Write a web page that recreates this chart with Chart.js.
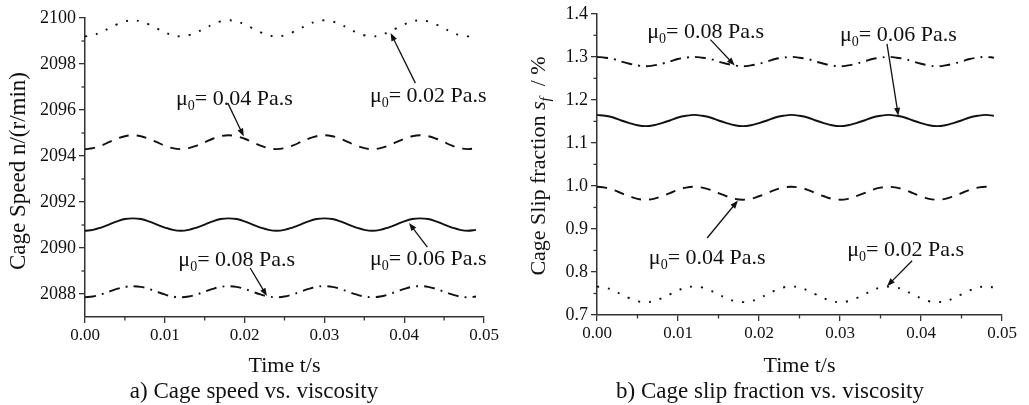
<!DOCTYPE html>
<html>
<head>
<meta charset="utf-8">
<script src="https://cdn.jsdelivr.net/npm/chart.js@4.4.1/dist/chart.umd.min.js"></script>
<style>
html, body { margin: 0; padding: 0; background: #fff; }
#wrap { position: relative; width: 1029px; height: 405px; }
.box { position: absolute; top: 0; height: 405px; }
</style>
</head>
<body>
<div id="wrap">
  <div class="box" style="left:0;width:514px"><canvas id="c1" width="514" height="405"></canvas></div>
  <div class="box" style="left:514px;width:515px"><canvas id="c2" width="515" height="405"></canvas></div>
</div>
<script>
// time axis, s
var time_s = [0.000, 0.001, 0.002, 0.003, 0.004, 0.005, 0.006, 0.007, 0.008, 0.009,
              0.010, 0.011, 0.012, 0.013, 0.014, 0.015, 0.016, 0.017, 0.018, 0.019,
              0.020, 0.021, 0.022, 0.023, 0.024, 0.025, 0.026, 0.027, 0.028, 0.029,
              0.030, 0.031, 0.032, 0.033, 0.034, 0.035, 0.036, 0.037, 0.038, 0.039,
              0.040, 0.041, 0.042, 0.043, 0.044, 0.045, 0.046, 0.047, 0.048, 0.049];

// a) cage speed, r/min
var speed_002 = [2099.20, 2099.25, 2099.38, 2099.55, 2099.72, 2099.85, 2099.90, 2099.85, 2099.72, 2099.55, 2099.38, 2099.25,
                 2099.20, 2099.25, 2099.38, 2099.55, 2099.72, 2099.85, 2099.90, 2099.85, 2099.72, 2099.55, 2099.38, 2099.25,
                 2099.20, 2099.25, 2099.38, 2099.55, 2099.72, 2099.85, 2099.90, 2099.85, 2099.72, 2099.55, 2099.38, 2099.25,
                 2099.20, 2099.25, 2099.38, 2099.55, 2099.72, 2099.85, 2099.90, 2099.85, 2099.72, 2099.55, 2099.38, 2099.25,
                 2099.20, 2099.25];
var speed_004 = [2094.30, 2094.34, 2094.45, 2094.60, 2094.75, 2094.86, 2094.90, 2094.86, 2094.75, 2094.60, 2094.45, 2094.34,
                 2094.30, 2094.34, 2094.45, 2094.60, 2094.75, 2094.86, 2094.90, 2094.86, 2094.75, 2094.60, 2094.45, 2094.34,
                 2094.30, 2094.34, 2094.45, 2094.60, 2094.75, 2094.86, 2094.90, 2094.86, 2094.75, 2094.60, 2094.45, 2094.34,
                 2094.30, 2094.34, 2094.45, 2094.60, 2094.75, 2094.86, 2094.90, 2094.86, 2094.75, 2094.60, 2094.45, 2094.34,
                 2094.30, 2094.34];
var speed_006 = [2090.75, 2090.79, 2090.89, 2091.02, 2091.16, 2091.26, 2091.29, 2091.26, 2091.16, 2091.02, 2090.89, 2090.79,
                 2090.75, 2090.79, 2090.89, 2091.02, 2091.16, 2091.26, 2091.29, 2091.26, 2091.16, 2091.02, 2090.89, 2090.79,
                 2090.75, 2090.79, 2090.89, 2091.02, 2091.16, 2091.26, 2091.29, 2091.26, 2091.16, 2091.02, 2090.89, 2090.79,
                 2090.75, 2090.79, 2090.89, 2091.02, 2091.16, 2091.26, 2091.29, 2091.26, 2091.16, 2091.02, 2090.89, 2090.79,
                 2090.75, 2090.79];
var speed_008 = [2087.86, 2087.89, 2087.98, 2088.10, 2088.22, 2088.31, 2088.34, 2088.31, 2088.22, 2088.10, 2087.98, 2087.89,
                 2087.86, 2087.89, 2087.98, 2088.10, 2088.22, 2088.31, 2088.34, 2088.31, 2088.22, 2088.10, 2087.98, 2087.89,
                 2087.86, 2087.89, 2087.98, 2088.10, 2088.22, 2088.31, 2088.34, 2088.31, 2088.22, 2088.10, 2087.98, 2087.89,
                 2087.86, 2087.89, 2087.98, 2088.10, 2088.22, 2088.31, 2088.34, 2088.31, 2088.22, 2088.10, 2087.98, 2087.89,
                 2087.86, 2087.89];

// b) cage slip fraction, %
var slip_002 = [0.766, 0.764, 0.757, 0.748, 0.739, 0.732, 0.730, 0.732, 0.739, 0.748, 0.757, 0.764,
                0.766, 0.764, 0.757, 0.748, 0.739, 0.732, 0.730, 0.732, 0.739, 0.748, 0.757, 0.764,
                0.766, 0.764, 0.757, 0.748, 0.739, 0.732, 0.730, 0.732, 0.739, 0.748, 0.757, 0.764,
                0.766, 0.764, 0.757, 0.748, 0.739, 0.732, 0.730, 0.732, 0.739, 0.748, 0.757, 0.764,
                0.766, 0.764];
var slip_004 = [0.998, 0.996, 0.991, 0.983, 0.976, 0.970, 0.968, 0.970, 0.976, 0.983, 0.991, 0.996,
                0.998, 0.996, 0.991, 0.983, 0.976, 0.970, 0.968, 0.970, 0.976, 0.983, 0.991, 0.996,
                0.998, 0.996, 0.991, 0.983, 0.976, 0.970, 0.968, 0.970, 0.976, 0.983, 0.991, 0.996,
                0.998, 0.996, 0.991, 0.983, 0.976, 0.970, 0.968, 0.970, 0.976, 0.983, 0.991, 0.996,
                0.998, 0.996];
var slip_006 = [1.165, 1.163, 1.159, 1.152, 1.146, 1.141, 1.139, 1.141, 1.146, 1.152, 1.159, 1.163,
                1.165, 1.163, 1.159, 1.152, 1.146, 1.141, 1.139, 1.141, 1.146, 1.152, 1.159, 1.163,
                1.165, 1.163, 1.159, 1.152, 1.146, 1.141, 1.139, 1.141, 1.146, 1.152, 1.159, 1.163,
                1.165, 1.163, 1.159, 1.152, 1.146, 1.141, 1.139, 1.141, 1.146, 1.152, 1.159, 1.163,
                1.165, 1.163];
var slip_008 = [1.300, 1.298, 1.295, 1.289, 1.284, 1.280, 1.278, 1.280, 1.284, 1.289, 1.295, 1.298,
                1.300, 1.298, 1.295, 1.289, 1.284, 1.280, 1.278, 1.280, 1.284, 1.289, 1.295, 1.298,
                1.300, 1.298, 1.295, 1.289, 1.284, 1.280, 1.278, 1.280, 1.284, 1.289, 1.295, 1.298,
                1.300, 1.298, 1.295, 1.289, 1.284, 1.280, 1.278, 1.280, 1.284, 1.289, 1.295, 1.298,
                1.300, 1.298];

// minor tick values
var time_minor = [0.005, 0.015, 0.025, 0.035, 0.045];
var speed_minor = [2089, 2091, 2093, 2095, 2097, 2099];
var slip_minor = [0.75, 0.85, 0.95, 1.05, 1.15, 1.25, 1.35];

var FONT = '"Liberation Serif", "Times New Roman", serif';
var INK = '#111';
var AXIS = '#333';

var DOT = [2, 9], DASH = [10, 8], DASHDOT = [11, 6, 2, 6];

function pts(vals) {
    return time_s.map(function(t, i) { return {x: t, y: vals[i]}; });
}
function line(vals, dash) {
    return {
        data: pts(vals), borderColor: INK, borderWidth: 1.9, borderDash: dash,
        pointRadius: 0, tension: 0.4, fill: false
    };
}

// minor ticks, titles and arrow labels
var decor = {
    id: 'decor',
    afterDraw: function(chart, args, o) {
        var ctx = chart.ctx, xs = chart.scales.x, ys = chart.scales.y;
        ctx.save();
        ctx.strokeStyle = AXIS;
        ctx.lineWidth = 1.3;
        o.xMinor.forEach(function(v) {
            var p = xs.getPixelForValue(v);
            ctx.beginPath(); ctx.moveTo(p, xs.top); ctx.lineTo(p, xs.top + 3.5); ctx.stroke();
        });
        o.yMinor.forEach(function(v) {
            var p = ys.getPixelForValue(v);
            ctx.beginPath(); ctx.moveTo(ys.right, p); ctx.lineTo(ys.right - 3.5, p); ctx.stroke();
        });

        ctx.fillStyle = INK;
        ctx.textAlign = 'center';
        ctx.textBaseline = 'alphabetic';
        ctx.font = '22px ' + FONT;
        ctx.fillText('Time t/s', (xs.left + xs.right) / 2, 372);
        ctx.font = '23px ' + FONT;
        ctx.fillText(o.caption, o.captionX, 398);

        // y title, rotated, built from parts
        ctx.save();
        ctx.translate(o.yTitleX, o.yTitleY);
        ctx.rotate(-Math.PI / 2);
        ctx.textAlign = 'left';
        var total = 0;
        o.yTitle.forEach(function(p) { ctx.font = p.f + ' ' + FONT; total += ctx.measureText(p.t).width; });
        var cx = -total / 2;
        o.yTitle.forEach(function(p) {
            ctx.font = p.f + ' ' + FONT;
            ctx.fillText(p.t, cx, p.dy || 0);
            cx += ctx.measureText(p.t).width;
        });
        ctx.restore();

        // labels with arrows
        ctx.textAlign = 'left';
        o.notes.forEach(function(n) {
            var x = xs.getPixelForValue(n.x), y = ys.getPixelForValue(n.y);
            ctx.font = '22px ' + FONT;
            ctx.fillText('\u03bc', x, y);
            var w = ctx.measureText('\u03bc').width;
            ctx.font = '14px ' + FONT;
            ctx.fillText('0', x + w, y + 5);
            w += ctx.measureText('0').width;
            ctx.font = '22px ' + FONT;
            ctx.fillText('= ' + n.text + ' Pa.s', x + w, y);

            var x1 = xs.getPixelForValue(n.ax), y1 = ys.getPixelForValue(n.ay);
            var x2 = xs.getPixelForValue(n.bx), y2 = ys.getPixelForValue(n.by);
            var a = Math.atan2(y2 - y1, x2 - x1), L = 8, W = 3;
            ctx.lineWidth = 1.3;
            ctx.strokeStyle = INK;
            ctx.beginPath();
            ctx.moveTo(x1, y1);
            ctx.lineTo(x2 - Math.cos(a) * L * 0.8, y2 - Math.sin(a) * L * 0.8);
            ctx.stroke();
            ctx.beginPath();
            ctx.moveTo(x2, y2);
            ctx.lineTo(x2 - Math.cos(a) * L - Math.sin(a) * W, y2 - Math.sin(a) * L + Math.cos(a) * W);
            ctx.lineTo(x2 - Math.cos(a) * L + Math.sin(a) * W, y2 - Math.sin(a) * L - Math.cos(a) * W);
            ctx.closePath();
            ctx.fill();
        });
        ctx.restore();
    }
};

function axes(yMin, yMax, yStep, yDigits, yWidth, xHeight) {
    var grid = {drawOnChartArea: false, drawTicks: true, tickLength: 6, color: AXIS, lineWidth: 1.3};
    var border = {display: true, color: AXIS, width: 1.5};
    return {
        x: {
            type: 'linear', min: 0, max: 0.05,
            grid: grid, border: border,
            ticks: {stepSize: 0.01, padding: 2, color: INK, font: {family: FONT, size: 17},
                    callback: function(v) { return v.toFixed(2); }},
            afterFit: function(s) { s.height = xHeight; }
        },
        y: {
            type: 'linear', min: yMin, max: yMax,
            grid: grid, border: border,
            ticks: {stepSize: yStep, includeBounds: false, padding: 3, color: INK, font: {family: FONT, size: 18},
                    callback: function(v) { return v.toFixed(yDigits); }},
            afterFit: function(s) { s.width = yWidth; }
        }
    };
}

var common = {
    responsive: false,
    animation: false,
    plugins: {legend: {display: false}, tooltip: {enabled: false}}
};

new Chart(document.getElementById('c1'), {
    type: 'line',
    data: {datasets: [line(speed_002, DOT), line(speed_004, DASH), line(speed_006, []), line(speed_008, DASHDOT)]},
    options: Object.assign({}, common, {
        layout: {padding: {top: 18, right: 30, left: 0, bottom: 0}},
        scales: axes(2087, 2100, 2, 0, 85, 88),
        plugins: Object.assign({}, common.plugins, {
            decor: {
                xMinor: time_minor, yMinor: speed_minor,
                caption: 'a) Cage speed vs. viscosity', captionX: 254,
                yTitleX: 25, yTitleY: 171,
                yTitle: [{t: 'Cage Speed n/(r/min)', f: '23px'}],
                notes: [
                    {text: '0.04', x: 0.0114, y: 2096.22, ax: 0.0179, ay: 2096.30, bx: 0.0199, by: 2094.85},
                    {text: '0.02', x: 0.0357, y: 2096.35, ax: 0.0414, ay: 2097.17, bx: 0.0383, by: 2099.35},
                    {text: '0.06', x: 0.0357, y: 2089.26, ax: 0.0429, ay: 2090.04, bx: 0.0406, by: 2091.09},
                    {text: '0.08', x: 0.0117, y: 2089.22, ax: 0.0207, ay: 2089.13, bx: 0.0228, by: 2087.91}
                ]
            }
        })
    }),
    plugins: [decor]
});

new Chart(document.getElementById('c2'), {
    type: 'line',
    data: {datasets: [line(slip_008, DASHDOT), line(slip_006, []), line(slip_004, DASH), line(slip_002, DOT)]},
    options: Object.assign({}, common, {
        layout: {padding: {top: 13, right: 27, left: 0, bottom: 0}},
        scales: axes(0.7, 1.4, 0.1, 1, 83, 90),
        plugins: Object.assign({}, common.plugins, {
            decor: {
                xMinor: time_minor, yMinor: slip_minor,
                caption: 'b) Cage slip fraction vs. viscosity', captionX: 256,
                yTitleX: 31, yTitleY: 166,
                yTitle: [
                    {t: 'Cage Slip fraction ', f: '22px'},
                    {t: 's', f: 'italic 22px'},
                    {t: 'f', f: 'italic 15px', dy: 5},
                    {t: '  / %', f: '22px'}
                ],
                notes: [
                    {text: '0.08', x: 0.0062, y: 1.344, ax: 0.0140, ay: 1.340, bx: 0.0170, by: 1.280},
                    {text: '0.06', x: 0.0300, y: 1.337, ax: 0.0358, ay: 1.330, bx: 0.0372, by: 1.163},
                    {text: '0.04', x: 0.0064, y: 0.819, ax: 0.0136, ay: 0.879, bx: 0.0174, by: 0.966},
                    {text: '0.02', x: 0.0309, y: 0.837, ax: 0.0389, ay: 0.826, bx: 0.0358, by: 0.767}
                ]
            }
        })
    }),
    plugins: [decor]
});
</script>
</body>
</html>
